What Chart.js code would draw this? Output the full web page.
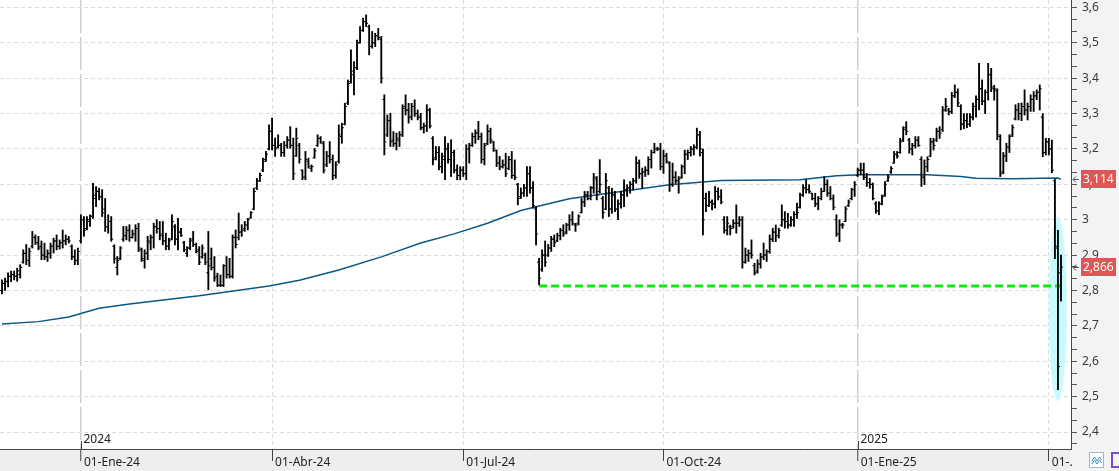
<!DOCTYPE html>
<html>
<head>
<meta charset="utf-8">
<script src="https://cdn.jsdelivr.net/npm/chart.js@4.4.1/dist/chart.umd.min.js"></script>
<style>
    html, body { margin: 0; padding: 0; background: #fff; }
    #wrap { width: 1119px; height: 471px; position: relative; }
</style>
</head>
<body>
<div id="wrap"><canvas id="price-chart"></canvas></div>
<script>
Chart.defaults.font.family = "'Noto Sans', sans-serif";
Chart.defaults.font.size = 11.5;
Chart.defaults.animation = false;

/********************** data **********************/
// one bar per trading session, index 0 = late Nov 2023, last = early Apr 2025

const highs = [
    2.83, 2.835, 2.85, 2.855, 2.855, 2.863, 2.873, 2.915, 2.93, 2.92,
    2.967, 2.957, 2.953, 2.94, 2.934, 2.915, 2.934, 2.948, 2.957, 2.943,
    2.971, 2.957, 2.953, 2.929, 2.915, 2.92, 3.014, 3.009, 3.009, 3.014,
    3.103, 3.094, 3.089, 3.085, 3.06, 3.014, 3.009, 2.929, 2.896, 2.924,
    2.981, 2.981, 2.986, 2.971, 2.986, 2.99, 2.92, 2.915, 2.953, 2.957,
    2.99, 3.0, 2.995, 2.995, 2.962, 2.948, 3.014, 2.986, 3.004, 2.976,
    2.939, 2.924, 2.948, 2.967, 2.934, 2.924, 2.929, 2.906, 2.967, 2.92,
    2.896, 2.849, 2.844, 2.873, 2.896, 2.891, 2.957, 2.971, 3.019, 2.986,
    2.995, 3.004, 3.023, 3.089, 3.117, 3.132, 3.174, 3.193, 3.268, 3.287,
    3.231, 3.24, 3.216, 3.221, 3.235, 3.263, 3.231, 3.259, 3.216, 3.141,
    3.193, 3.174, 3.155, 3.202, 3.24, 3.235, 3.221, 3.193, 3.221, 3.183,
    3.164, 3.268, 3.273, 3.329, 3.395, 3.48, 3.447, 3.508, 3.546, 3.57,
    3.579, 3.55, 3.532, 3.527, 3.541, 3.518, 3.353, 3.296, 3.301, 3.249,
    3.245, 3.249, 3.325, 3.353, 3.329, 3.329, 3.339, 3.31, 3.301, 3.273,
    3.325, 3.315, 3.235, 3.207, 3.207, 3.188, 3.235, 3.216, 3.226, 3.197,
    3.155, 3.15, 3.15, 3.212, 3.216, 3.245, 3.254, 3.278, 3.245, 3.216,
    3.268, 3.259, 3.221, 3.197, 3.179, 3.169, 3.188, 3.179, 3.193, 3.169,
    3.103, 3.09, 3.10, 3.15, 3.15, 3.108, 3.037, 2.891, 2.915, 2.94,
    2.93, 2.953, 2.957, 2.962, 2.976, 2.986, 2.99, 3.014, 3.023, 2.99,
    3.014, 3.06, 3.08, 3.08, 3.094, 3.131, 3.122, 3.17, 3.066, 3.131,
    3.094, 3.089, 3.08, 3.056, 3.08, 3.113, 3.099, 3.108, 3.117, 3.178,
    3.169, 3.146, 3.15, 3.178, 3.197, 3.216, 3.205, 3.216, 3.197, 3.188,
    3.164, 3.16, 3.136, 3.122, 3.155, 3.197, 3.197, 3.207, 3.212, 3.259,
    3.25, 3.20, 3.075, 3.08, 3.056, 3.094, 3.09, 3.085, 3.009, 3.009,
    2.985, 3.0, 3.042, 3.009, 3.009, 2.92, 2.915, 2.943, 2.877, 2.887,
    2.905, 2.934, 2.915, 2.957, 2.976, 2.985, 2.976, 3.042, 3.023, 3.018,
    3.009, 3.023, 3.047, 3.075, 3.099, 3.113, 3.099, 3.075, 3.075, 3.066,
    3.089, 3.122, 3.113, 3.094, 3.07, 3.014, 3.0, 2.99, 3.037, 3.056,
    3.089, 3.108, 3.146, 3.16, 3.16, 3.131, 3.117, 3.104, 3.051, 3.051,
    3.07, 3.108, 3.127, 3.15, 3.193, 3.193, 3.23, 3.263, 3.277, 3.23,
    3.216, 3.235, 3.235, 3.178, 3.169, 3.178, 3.23, 3.23, 3.259, 3.263,
    3.32, 3.343, 3.315, 3.36, 3.381, 3.37, 3.325, 3.30, 3.30, 3.30,
    3.33, 3.35, 3.442, 3.395, 3.367, 3.442, 3.428, 3.38, 3.37, 3.24,
    3.19, 3.216, 3.24, 3.268, 3.325, 3.329, 3.33, 3.367, 3.33, 3.353,
    3.362, 3.367, 3.381, 3.30, 3.23, 3.23, 3.225, 3.114, 2.97, 2.90
];

const lows = [
    2.79, 2.80, 2.81, 2.825, 2.83, 2.826, 2.835, 2.877, 2.873, 2.868,
    2.92, 2.93, 2.915, 2.887, 2.887, 2.882, 2.891, 2.906, 2.915, 2.917,
    2.92, 2.929, 2.934, 2.887, 2.873, 2.873, 2.934, 2.953, 2.971, 2.981,
    3.004, 3.037, 3.056, 3.009, 2.967, 2.962, 2.939, 2.877, 2.844, 2.887,
    2.939, 2.943, 2.939, 2.948, 2.939, 2.91, 2.882, 2.863, 2.887, 2.915,
    2.92, 2.962, 2.943, 2.929, 2.915, 2.915, 2.943, 2.929, 2.915, 2.953,
    2.91, 2.896, 2.915, 2.924, 2.906, 2.873, 2.891, 2.873, 2.802, 2.858,
    2.826, 2.811, 2.811, 2.811, 2.835, 2.835, 2.835, 2.92, 2.943, 2.953,
    2.967, 2.971, 3.004, 3.028, 3.085, 3.108, 3.136, 3.165, 3.197, 3.197,
    3.179, 3.202, 3.179, 3.179, 3.202, 3.202, 3.113, 3.179, 3.16, 3.113,
    3.113, 3.146, 3.136, 3.174, 3.207, 3.216, 3.132, 3.15, 3.16, 3.113,
    3.117, 3.16, 3.216, 3.268, 3.325, 3.386, 3.353, 3.424, 3.499, 3.532,
    3.546, 3.466, 3.485, 3.489, 3.508, 3.386, 3.183, 3.235, 3.207, 3.207,
    3.197, 3.207, 3.235, 3.296, 3.273, 3.282, 3.292, 3.282, 3.254, 3.245,
    3.249, 3.259, 3.155, 3.169, 3.141, 3.132, 3.113, 3.16, 3.122, 3.132,
    3.113, 3.113, 3.122, 3.113, 3.16, 3.207, 3.216, 3.226, 3.16, 3.155,
    3.212, 3.216, 3.193, 3.15, 3.141, 3.146, 3.122, 3.141, 3.117, 3.113,
    3.042, 3.06, 3.066, 3.066, 3.075, 3.033, 2.929, 2.816, 2.854, 2.868,
    2.896, 2.91, 2.924, 2.938, 2.943, 2.953, 2.96, 2.97, 2.985, 2.967,
    2.985, 3.019, 3.037, 3.056, 3.056, 3.075, 3.056, 3.075, 3.004, 3.028,
    3.009, 3.018, 3.023, 3.0, 3.033, 3.037, 3.066, 3.075, 3.084, 3.103,
    3.117, 3.089, 3.122, 3.127, 3.146, 3.188, 3.195, 3.141, 3.131, 3.16,
    3.08, 3.094, 3.103, 3.075, 3.117, 3.13, 3.17, 3.18, 3.183, 3.20,
    3.18, 2.957, 3.023, 3.037, 3.028, 3.033, 3.056, 3.045, 2.962, 2.957,
    2.957, 2.976, 2.962, 2.981, 2.863, 2.877, 2.882, 2.891, 2.844, 2.849,
    2.863, 2.887, 2.882, 2.905, 2.938, 2.938, 2.948, 2.981, 2.976, 2.976,
    2.981, 2.981, 3.004, 3.033, 3.066, 3.075, 3.075, 3.056, 3.037, 3.028,
    3.056, 3.08, 3.066, 3.056, 3.028, 2.953, 2.938, 2.976, 2.995, 3.037,
    3.056, 3.066, 3.122, 3.127, 3.113, 3.094, 3.089, 3.056, 3.018, 3.014,
    3.042, 3.066, 3.108, 3.131, 3.16, 3.174, 3.188, 3.221, 3.24, 3.188,
    3.183, 3.202, 3.207, 3.094, 3.099, 3.136, 3.178, 3.197, 3.221, 3.23,
    3.249, 3.306, 3.296, 3.30, 3.345, 3.32, 3.254, 3.257, 3.26, 3.264,
    3.282, 3.29, 3.31, 3.325, 3.30, 3.338, 3.362, 3.338, 3.226, 3.122,
    3.13, 3.164, 3.19, 3.235, 3.282, 3.282, 3.28, 3.296, 3.282, 3.306,
    3.306, 3.339, 3.31, 3.178, 3.183, 3.183, 3.133, 2.89, 2.52, 2.77
];

const opens = [
    2.80, 2.82, 2.825, 2.84, 2.845, 2.84, 2.845, 2.88, 2.905, 2.885,
    2.925, 2.95, 2.935, 2.925, 2.90, 2.895, 2.905, 2.925, 2.94, 2.925,
    2.935, 2.94, 2.945, 2.925, 2.895, 2.885, 2.94, 3.0, 2.975, 2.995,
    3.01, 3.06, 3.08, 3.065, 3.03, 2.98, 2.995, 2.925, 2.865, 2.89,
    2.945, 2.955, 2.97, 2.95, 2.96, 2.975, 2.915, 2.885, 2.905, 2.935,
    2.95, 2.98, 2.975, 2.96, 2.94, 2.925, 2.945, 2.98, 2.945, 2.965,
    2.935, 2.905, 2.92, 2.945, 2.93, 2.915, 2.895, 2.90, 2.85, 2.89,
    2.865, 2.84, 2.815, 2.815, 2.87, 2.845, 2.84, 2.95, 2.95, 2.965,
    2.975, 2.985, 3.005, 3.03, 3.09, 3.11, 3.14, 3.17, 3.20, 3.25,
    3.21, 3.205, 3.21, 3.19, 3.21, 3.225, 3.21, 3.18, 3.21, 3.14,
    3.12, 3.165, 3.145, 3.175, 3.21, 3.23, 3.215, 3.155, 3.18, 3.17,
    3.125, 3.165, 3.235, 3.27, 3.33, 3.39, 3.41, 3.43, 3.50, 3.535,
    3.56, 3.545, 3.49, 3.50, 3.52, 3.51, 3.34, 3.24, 3.28, 3.225,
    3.215, 3.225, 3.24, 3.32, 3.31, 3.29, 3.32, 3.30, 3.29, 3.26,
    3.265, 3.31, 3.23, 3.175, 3.19, 3.15, 3.17, 3.20, 3.17, 3.19,
    3.14, 3.125, 3.14, 3.13, 3.20, 3.21, 3.235, 3.245, 3.235, 3.17,
    3.215, 3.25, 3.22, 3.195, 3.16, 3.15, 3.155, 3.145, 3.17, 3.125,
    3.10, 3.065, 3.075, 3.09, 3.13, 3.09, 3.03, 2.88, 2.86, 2.90,
    2.90, 2.92, 2.945, 2.94, 2.955, 2.97, 2.965, 2.985, 3.0, 2.985,
    2.99, 3.02, 3.05, 3.07, 3.06, 3.09, 3.115, 3.08, 3.06, 3.03,
    3.09, 3.03, 3.07, 3.03, 3.045, 3.07, 3.085, 3.09, 3.10, 3.11,
    3.16, 3.13, 3.135, 3.14, 3.17, 3.19, 3.20, 3.20, 3.15, 3.18,
    3.16, 3.10, 3.12, 3.11, 3.12, 3.15, 3.185, 3.19, 3.20, 3.205,
    3.24, 3.19, 3.06, 3.04, 3.05, 3.045, 3.08, 3.065, 3.0, 2.97,
    2.98, 2.98, 2.99, 2.99, 3.0, 2.88, 2.90, 2.905, 2.87, 2.855,
    2.875, 2.895, 2.90, 2.91, 2.945, 2.965, 2.955, 2.985, 3.0, 2.995,
    2.985, 3.0, 3.015, 3.035, 3.07, 3.09, 3.085, 3.075, 3.06, 3.045,
    3.06, 3.08, 3.10, 3.075, 3.06, 3.0, 2.96, 2.985, 2.995, 3.04,
    3.06, 3.085, 3.125, 3.14, 3.14, 3.12, 3.105, 3.10, 3.045, 3.025,
    3.045, 3.07, 3.11, 3.135, 3.16, 3.185, 3.19, 3.225, 3.26, 3.225,
    3.20, 3.21, 3.225, 3.17, 3.12, 3.15, 3.18, 3.22, 3.225, 3.25,
    3.255, 3.31, 3.31, 3.305, 3.35, 3.36, 3.32, 3.27, 3.28, 3.27,
    3.29, 3.32, 3.34, 3.37, 3.335, 3.36, 3.41, 3.37, 3.365, 3.235,
    3.135, 3.18, 3.205, 3.24, 3.285, 3.31, 3.30, 3.32, 3.31, 3.32,
    3.34, 3.35, 3.36, 3.29, 3.19, 3.22, 3.20, 3.11, 2.92, 2.85
];

const closes = [
    2.82, 2.826, 2.84, 2.845, 2.84, 2.855, 2.865, 2.905, 2.885, 2.91,
    2.95, 2.935, 2.92, 2.90, 2.895, 2.905, 2.925, 2.94, 2.925, 2.935,
    2.94, 2.945, 2.94, 2.895, 2.885, 2.91, 3.0, 2.97, 3.0, 3.01,
    3.07, 3.08, 3.065, 3.02, 2.98, 2.995, 2.945, 2.89, 2.885, 2.92,
    2.955, 2.97, 2.95, 2.96, 2.975, 2.92, 2.89, 2.905, 2.94, 2.95,
    2.98, 2.975, 2.955, 2.94, 2.925, 2.94, 2.995, 2.945, 2.965, 2.955,
    2.915, 2.92, 2.94, 2.93, 2.91, 2.88, 2.92, 2.88, 2.87, 2.865,
    2.835, 2.815, 2.815, 2.87, 2.845, 2.84, 2.95, 2.93, 2.965, 2.97,
    2.985, 3.0, 3.02, 3.08, 3.11, 3.125, 3.165, 3.185, 3.25, 3.21,
    3.20, 3.21, 3.19, 3.21, 3.225, 3.21, 3.13, 3.23, 3.17, 3.12,
    3.17, 3.15, 3.15, 3.195, 3.23, 3.22, 3.14, 3.18, 3.17, 3.125,
    3.155, 3.24, 3.26, 3.32, 3.385, 3.42, 3.43, 3.50, 3.535, 3.56,
    3.555, 3.49, 3.50, 3.52, 3.515, 3.40, 3.22, 3.28, 3.22, 3.215,
    3.23, 3.24, 3.315, 3.31, 3.29, 3.32, 3.30, 3.29, 3.26, 3.265,
    3.31, 3.265, 3.17, 3.19, 3.15, 3.18, 3.20, 3.17, 3.19, 3.14,
    3.125, 3.14, 3.13, 3.20, 3.21, 3.235, 3.245, 3.235, 3.17, 3.21,
    3.25, 3.225, 3.20, 3.16, 3.15, 3.155, 3.13, 3.17, 3.125, 3.12,
    3.06, 3.075, 3.09, 3.13, 3.09, 3.04, 2.96, 2.835, 2.90, 2.88,
    2.92, 2.945, 2.935, 2.955, 2.97, 2.96, 2.985, 3.0, 2.99, 2.985,
    3.01, 3.05, 3.07, 3.06, 3.09, 3.12, 3.07, 3.10, 3.02, 3.11,
    3.03, 3.07, 3.03, 3.045, 3.07, 3.085, 3.09, 3.10, 3.11, 3.16,
    3.13, 3.135, 3.14, 3.17, 3.19, 3.20, 3.20, 3.15, 3.18, 3.165,
    3.10, 3.12, 3.11, 3.115, 3.15, 3.185, 3.19, 3.20, 3.205, 3.24,
    3.20, 3.0, 3.04, 3.05, 3.045, 3.08, 3.065, 3.05, 2.97, 2.99,
    2.975, 2.99, 2.99, 3.0, 2.88, 2.90, 2.905, 2.90, 2.85, 2.875,
    2.895, 2.90, 2.91, 2.945, 2.965, 2.955, 2.97, 3.0, 2.995, 2.985,
    3.0, 3.015, 3.02, 3.07, 3.09, 3.085, 3.08, 3.06, 3.045, 3.06,
    3.08, 3.10, 3.075, 3.06, 3.035, 2.96, 2.985, 2.985, 3.03, 3.05,
    3.085, 3.10, 3.14, 3.14, 3.12, 3.105, 3.10, 3.06, 3.025, 3.045,
    3.065, 3.10, 3.12, 3.145, 3.185, 3.18, 3.22, 3.255, 3.25, 3.20,
    3.21, 3.225, 3.21, 3.12, 3.15, 3.17, 3.22, 3.21, 3.25, 3.245,
    3.31, 3.32, 3.305, 3.35, 3.36, 3.33, 3.27, 3.28, 3.27, 3.29,
    3.32, 3.34, 3.37, 3.335, 3.36, 3.41, 3.375, 3.37, 3.24, 3.13,
    3.18, 3.205, 3.235, 3.26, 3.31, 3.30, 3.32, 3.31, 3.32, 3.34,
    3.35, 3.36, 3.37, 3.19, 3.22, 3.20, 3.14, 2.925, 2.585, 2.866
];

// moving average, sampled at these bar indexes
const maIdx = [0, 12, 22, 32, 42, 65, 88, 98, 111, 125, 138, 149, 160, 171, 177, 187,
    204, 220, 237, 263, 275, 283, 305, 316, 321, 333, 348, 349];
const maVals = [2.705, 2.712, 2.725, 2.750, 2.762, 2.785, 2.813, 2.829, 2.858, 2.895,
    2.934, 2.960, 2.990, 3.026, 3.039, 3.059, 3.080, 3.099, 3.111, 3.113, 3.124,
    3.127, 3.127, 3.122, 3.117, 3.116, 3.118, 3.114];

// support line drawn from the August low
const supportLevel = 2.813;
const supportFrom = 177;
const supportTo = 349;

// highlighted crash area
const highlightIdx = 347.9;
const highlightPrice = 2.748;

const xTickIdx = [26, 89, 152, 218, 282, 345];
const xTickLabels = ["01-Ene-24", "01-Abr-24", "01-Jul-24", "01-Oct-24", "01-Ene-25", "01-."];
const yearIdx = [26, 282];
const yearLabels = ["2024", "2025"];

const yTickValues = [2.4, 2.5, 2.6, 2.7, 2.8, 2.9, 3.0, 3.1, 3.2, 3.3, 3.4, 3.5, 3.6];
const yTickLabels = ["2,4", "2,5", "2,6", "2,7", "2,8", "2,9", "3", "3,1", "3,2", "3,3", "3,4", "3,5", "3,6"];

const Y_MIN = 2.352, Y_MAX = 3.621;
const X_MIN = -0.66, X_MAX = 352.3;

/********************** helpers **********************/

function majorIndex(v) {
    return yTickValues.findIndex(t => Math.abs(t - v) < 1e-4);
}

let yAllTicks = [];
const step = 0.1 / 3;
for (let k = -1; k <= 36; k++) {
    let v = +(2.4 + k * step).toFixed(5);
    if (v >= Y_MIN && v <= Y_MAX) yAllTicks.push(v);
}

function isYear(v) {
    return yearIdx.indexOf(v) >= 0;
}

function fmt(v, d) {
    return v.toFixed(d).replace('.', ',');
}

// no automatic padding around the plot, the axes sit on the edges
function noPad(s) {
    s.paddingTop = 0;
    s.paddingBottom = 0;
    s.paddingLeft = 0;
    s.paddingRight = 0;
}

// light cyan ellipse used as a point style
const glow = document.createElement('canvas');
glow.width = 20;
glow.height = 186;
(function () {
    const g = glow.getContext('2d');
    g.fillStyle = 'rgba(190, 248, 252, 0.55)';
    g.beginPath();
    g.ellipse(10, 93, 9.5, 92.5, 0, 0, Math.PI * 2);
    g.fill();
    g.fillStyle = '#c6fafd';
    g.beginPath();
    g.ellipse(10, 93, 8.2, 90, 0, 0, Math.PI * 2);
    g.fill();
})();

/********************** plugins **********************/

const backdrop = {
    id: 'backdrop',
    beforeDraw(chart) {
        const {ctx, chartArea: a, width, height} = chart;
        ctx.save();
        ctx.fillStyle = '#ffffff';
        ctx.fillRect(0, 0, width, height);
        ctx.fillStyle = '#f2f3f5';
        ctx.fillRect(a.right, 0, width - a.right, height);
        ctx.fillStyle = '#eeeeee';
        ctx.fillRect(0, a.bottom, a.right, height - a.bottom);
        ctx.restore();
    }
};

const overlay = {
    id: 'overlay',
    afterDraw(chart) {
        const {ctx, chartArea: a} = chart;
        const xs = chart.scales.x, ys = chart.scales.y;
        ctx.save();

        // year markers
        ctx.font = "12px 'Noto Sans', sans-serif";
        ctx.fillStyle = '#222';
        ctx.textBaseline = 'middle';
        ctx.strokeStyle = '#444';
        ctx.lineWidth = 1;
        for (let k = 0; k < yearIdx.length; k++) {
            const px = Math.round(xs.getPixelForValue(yearIdx[k])) + 0.5;
            ctx.beginPath();
            ctx.moveTo(px, a.bottom - 8);
            ctx.lineTo(px, a.bottom);
            ctx.stroke();
            ctx.fillText(yearLabels[k], px + 2, a.bottom - 9);
        }

        // price tags on the right axis
        const tags = [maVals[maVals.length - 1], closes[closes.length - 1]];
        ctx.font = "12px 'Noto Sans', sans-serif";
        for (const v of tags) {
            const py = Math.round(ys.getPixelForValue(v));
            ctx.fillStyle = '#e05555';
            ctx.fillRect(a.right + 10, py - 9, 35, 18);
            ctx.fillStyle = '#ffffff';
            ctx.textAlign = 'left';
            ctx.fillText(fmt(v, 3), a.right + 12, py + 0.5);
            ctx.strokeStyle = '#555';
            ctx.beginPath();
            ctx.moveTo(a.right + 8, py + 0.5);
            ctx.lineTo(a.right + 2, py + 0.5);
            ctx.moveTo(a.right + 5, py - 2.5);
            ctx.lineTo(a.right + 2, py + 0.5);
            ctx.lineTo(a.right + 5, py + 3.5);
            ctx.stroke();
        }

        // little toolbar boxes in the corner
        ctx.fillStyle = '#ffffff';
        ctx.strokeStyle = '#a9b3bd';
        ctx.fillRect(1089.5, 452.5, 14, 15);
        ctx.strokeRect(1089.5, 452.5, 14, 15);
        ctx.strokeStyle = '#3a8fd0';
        ctx.beginPath();
        ctx.moveTo(1092, 461); ctx.lineTo(1094.5, 457); ctx.lineTo(1097, 461);
        ctx.lineTo(1099.5, 457); ctx.lineTo(1101.5, 460);
        ctx.moveTo(1092, 464); ctx.lineTo(1094.5, 460); ctx.lineTo(1097, 464);
        ctx.lineTo(1099.5, 460); ctx.lineTo(1101.5, 463);
        ctx.stroke();
        ctx.strokeStyle = '#7b4cc7';
        ctx.lineWidth = 2;
        ctx.strokeRect(1112, 453, 10, 14);
        ctx.restore();
    }
};

/********************** chart **********************/

const barData = highs.map((h, i) => ({x: i, y: [lows[i], h]}));
const openData = opens.map((o, i) => ({x: i - 0.33, y: o}));
const closeData = closes.map((c, i) => ({x: i + 0.33, y: c}));
const maData = maIdx.map((ix, k) => ({x: ix, y: maVals[k]}));

const chartEl = document.getElementById('price-chart');
const priceChart = new Chart(chartEl, {
    type: 'bar',
    data: {
        datasets: [
            {
                type: 'scatter',
                label: 'open',
                data: openData,
                pointStyle: 'line',
                pointRadius: 1,
                pointBorderWidth: 1,
                pointBorderColor: '#000',
                order: 0
            },
            {
                type: 'scatter',
                label: 'close',
                data: closeData,
                pointStyle: 'line',
                pointRadius: 1,
                pointBorderWidth: 1,
                pointBorderColor: '#000',
                order: 0
            },
            {
                type: 'bar',
                label: 'range',
                data: barData,
                backgroundColor: '#000',
                borderWidth: 0,
                barThickness: 1.2,
                order: 1
            },
            {
                type: 'line',
                label: 'support',
                data: [{x: supportFrom, y: supportLevel}, {x: supportTo, y: supportLevel}],
                borderColor: '#14e614',
                borderWidth: 3,
                borderDash: [8, 4],
                pointRadius: 0,
                order: 2
            },
            {
                type: 'line',
                label: 'MA',
                data: maData,
                borderColor: '#0b5786',
                borderWidth: 1.5,
                pointRadius: 0,
                tension: 0,
                order: 3
            },
            {
                type: 'scatter',
                label: 'highlight',
                data: [{x: highlightIdx, y: highlightPrice}],
                pointStyle: glow,
                pointRadius: 10,
                order: 5
            }
        ]
    },
    options: {
        responsive: true,
        maintainAspectRatio: false,
        events: [],
        layout: { padding: 0, autoPadding: false },
        plugins: {
            legend: { display: false },
            tooltip: { enabled: false }
        },
        scales: {
            x: {
                type: 'linear',
                min: X_MIN,
                max: X_MAX,
                bounds: 'data',
                offset: false,
                afterBuildTicks: (s) => { s.ticks = xTickIdx.map(v => ({value: v})); },
                afterFit: (s) => { s.height = 22; noPad(s); },
                grid: {
                    offset: false,
                    color: (c) => (c.tick && isYear(c.tick.value)) ? '#cfcfcf' : '#dcdcdc',
                    lineWidth: (c) => (c.tick && isYear(c.tick.value)) ? 1.5 : 1,
                    tickLength: 12,
                    tickColor: '#444',
                    tickWidth: 1
                },
                border: {
                    color: '#4a4a4a',
                    width: 1,
                    dash: (c) => (c.tick && isYear(c.tick.value)) ? [33, 4] : [4, 3]
                },
                ticks: {
                    autoSkip: false,
                    maxRotation: 0,
                    minRotation: 0,
                    align: 'start',
                    labelOffset: 3,
                    padding: -6,
                    color: '#222',
                    font: { size: 12 },
                    callback: (v, i) => xTickLabels[i] ?? ''
                }
            },
            y: {
                type: 'linear',
                position: 'right',
                min: Y_MIN,
                max: Y_MAX,
                bounds: 'data',
                afterBuildTicks: (s) => { s.ticks = yAllTicks.map(v => ({value: v})); },
                afterFit: (s) => { s.width = 48; noPad(s); },
                grid: {
                    color: (c) => (c.tick && majorIndex(c.tick.value) >= 0) ? '#dcdcdc' : 'rgba(0,0,0,0)',
                    tickColor: '#555',
                    tickLength: 6,
                    tickWidth: 1
                },
                border: { color: '#4a4a4a', width: 1, dash: [4, 3] },
                ticks: {
                    padding: 5,
                    color: '#3a3a3a',
                    font: { size: 12 },
                    autoSkip: false,
                    callback: (v) => {
                        const k = majorIndex(v);
                        return k >= 0 ? yTickLabels[k] : '';
                    }
                }
            }
        }
    },
    plugins: [backdrop, overlay]
});
</script>
</body>
</html>
